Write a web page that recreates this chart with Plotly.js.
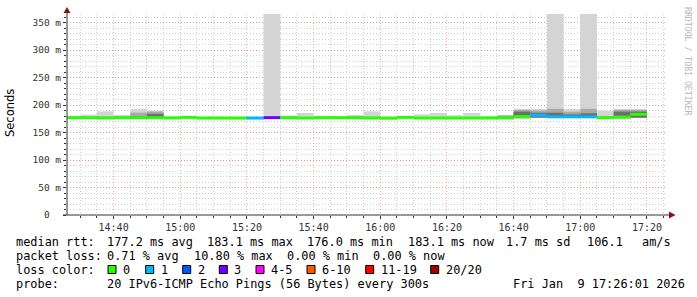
<!DOCTYPE html>
<html><head><meta charset="utf-8">
<script src="https://cdn.plot.ly/plotly-3.0.1.min.js"></script>
<style>html,body{margin:0;padding:0;background:#fff;}#chart{width:697px;height:297px;}</style>
</head><body><div id="chart"></div>
<script>
// ---- data (5-minute bins, start times) ----
const binStart = ["2026-01-09 14:25","2026-01-09 14:30","2026-01-09 14:35","2026-01-09 14:40","2026-01-09 14:45","2026-01-09 14:50","2026-01-09 14:55",
"2026-01-09 15:00","2026-01-09 15:05","2026-01-09 15:10","2026-01-09 15:15","2026-01-09 15:20","2026-01-09 15:25","2026-01-09 15:30","2026-01-09 15:35","2026-01-09 15:40","2026-01-09 15:45","2026-01-09 15:50","2026-01-09 15:55",
"2026-01-09 16:00","2026-01-09 16:05","2026-01-09 16:10","2026-01-09 16:15","2026-01-09 16:20","2026-01-09 16:25","2026-01-09 16:30","2026-01-09 16:35","2026-01-09 16:40","2026-01-09 16:45","2026-01-09 16:50","2026-01-09 16:55",
"2026-01-09 17:00","2026-01-09 17:05","2026-01-09 17:10","2026-01-09 17:15"];
const medianMs = [177.0,177.0,176.5,177.0,177.0,177.0,176.5,177.5,176.3,176.2,176.2,176.3,177.0,177.0,176.3,177.0,177.0,177.0,176.3,176.0,177.5,176.3,176.3,176.3,176.3,176.3,176.5,179.0,181.5,178.5,178.5,178.5,177.0,178.0,183.1];
const lostPings = [0,0,0,0,0,0,0,0,0,0,0,0.6,2.16,0,0,0,0,0,0,0,0,0,0,0,0,0,0,0,0.5,1.0,0.4,0.6,0,0,0];
const pingMin = [176.5,176.5,176.0,176.5,176.5,176.5,176.0,177.0,176.0,176.0,176.0,176.0,176.5,176.5,176.0,176.5,176.5,176.5,176.0,175.8,177.0,176.0,176.0,176.0,176.0,176.0,176.0,176.0,177.0,177.0,177.0,177.0,176.5,176.0,177.0];
const pingP75 = [177.0,177.5,177.5,177.5,179.0,184.0,177.0,178.0,176.5,176.5,176.5,176.5,177.5,177.5,177.0,177.5,177.5,177.5,177.0,176.5,178.0,177.0,177.0,177.0,177.0,177.0,178.0,188.0,186.0,186.0,183.0,185.0,178.0,188.0,188.0];
const pingP90 = [177.5,178.0,179.0,178.0,186.0,188.0,177.5,178.0,177.0,177.0,177.0,177.0,178.0,178.0,178.0,178.0,178.0,178.0,179.0,177.0,178.0,178.0,178.0,178.0,178.0,177.5,181.0,191.0,190.0,193.0,188.0,193.0,180.0,191.0,191.0];
const pingMax = [178.0,182.5,188.5,182.0,193.0,190.0,179.0,179.0,177.5,177.5,177.5,178.0,420.0,181.0,185.5,180.5,180.0,182.0,188.5,177.5,179.0,183.0,185.5,181.5,185.5,180.0,182.0,193.0,193.0,420.0,193.0,420.0,190.0,193.0,193.0];

const yTickVals = [0,50,100,150,200,250,300,350];
const yTickText = ["0\u00a0\u00a0","50 m","100 m","150 m","200 m","250 m","300 m","350 m"];

const lossLabels = ["0","1","2","3","4-5","6-10","11-19","20/20"];
const lossUpper  = [0,1,2,3,5,10,19,20];
const lossColors = ["#26ff00","#00b8ff","#0059ff","#7000ff","#ff00ff","#ff5500","#ff0000","#a00000"];

const statLine1 = ["median rtt:","177.2 ms avg","183.1 ms max","176.0 ms min","183.1 ms now","1.7 ms sd","106.1","am/s"];
const statLine2 = ["packet loss:","0.71 % avg","10.80 % max","0.00 % min","0.00 % now"];
const probeLine = ["probe:","20 IPv6-ICMP Echo Pings (56 Bytes) every 300s","Fri Jan\u00a0\u00a09 17:26:01 2026"];

// ---- geometry ----
const W=697,H=297,L=67,R=667,T=14,B=215;
const YMAX=365.5;
const px = x => (x-L)/(R-L);
const py = y => (B-y)/(B-T);
const msPerPx = YMAX/(B-T);
const lineHalf = 1.5*msPerPx;

function lossColor(l){
  for(let i=0;i<lossUpper.length;i++){ if(l<=lossUpper[i]) return lossColors[i]; }
  return lossColors[lossColors.length-1];
}
function smoke(top,color){
  return {type:'bar',x:binStart,base:pingMin,y:top.map((v,i)=>v-pingMin[i]),width:300000,offset:0,
    marker:{color:color,line:{width:0}},hoverinfo:'skip',showlegend:false};
}
const traces=[
  smoke(pingMax,'#d4d4d4'),
  smoke(pingP90,'#a8a8a8'),
  smoke(pingP75,'#6e6e6e'),
  {type:'bar',x:binStart,base:medianMs.map(v=>v-lineHalf),y:medianMs.map(()=>2*lineHalf),width:300000,offset:0,
   marker:{color:lostPings.map(lossColor),line:{width:0}},hoverinfo:'skip',showlegend:false}
];

const mono='DejaVu Sans Mono';
const ann=[];
function txt(x,y,s,o){ann.push(Object.assign({xref:'paper',yref:'paper',x:px(x),y:py(y),text:s,showarrow:false,xanchor:'left',yanchor:'middle',
  borderpad:0,borderwidth:0,font:{family:mono,size:11.9,color:'#000'}},o||{}));}
const l1x=[16,106.7,207.3,306.7,407.7,505.7,586.7,641.7];
statLine1.forEach((s,i)=>txt(l1x[i],241.5,s));
const l2x=[16,106.7,194,286.7,372.7];
statLine2.forEach((s,i)=>txt(l2x[i],255.5,s));
txt(16,269.5,"loss color:");
const sqx=[108,145.7,182.7,219.3,256,307,365.7,430.7];
const shapes=[];
lossLabels.forEach((s,i)=>{
  shapes.push({type:'rect',xref:'paper',yref:'paper',x0:px(sqx[i]),x1:px(sqx[i]+8),y0:py(273.5),y1:py(265.5),
    fillcolor:lossColors[i],line:{color:'#000',width:1}});
  txt(sqx[i]+15,269.5,s);
});
const l4x=[16,106.7,513.3];
probeLine.forEach((s,i)=>txt(l4x[i],283.5,s));
ann.push({xref:'paper',yref:'paper',x:px(10),y:py(113),text:'Seconds',textangle:-90,showarrow:false,
  xanchor:'center',yanchor:'middle',font:{family:'DejaVu Sans',size:11.5,color:'#000'}});
ann.push({xref:'paper',yref:'paper',x:px(688),y:py(61),text:'RRDTOOL / TOBI OETIKER',textangle:90,showarrow:false,
  xanchor:'center',yanchor:'middle',font:{family:mono,size:8.2,color:'#b8b8b8'}});

// axes lines & arrows
shapes.push({type:'line',xref:'paper',yref:'paper',x0:px(67),x1:px(67),y0:py(215),y1:py(12),line:{color:'#333',width:1}});
shapes.push({type:'line',xref:'paper',yref:'paper',x0:px(63),x1:px(670),y0:py(215),y1:py(215),line:{color:'#333',width:1}});
shapes.push({type:'path',xref:'paper',yref:'paper',path:`M${px(63.5)},${py(13)} L${px(70.5)},${py(13)} L${px(67)},${py(7)} Z`,fillcolor:'#8b1010',line:{width:0}});
shapes.push({type:'path',xref:'paper',yref:'paper',path:`M${px(669)},${py(211.5)} L${px(669)},${py(218.5)} L${px(675.5)},${py(215)} Z`,fillcolor:'#8b1010',line:{width:0}});

const layout={
  width:W,height:H,margin:{l:L,r:W-R,t:T,b:H-B,pad:0},
  paper_bgcolor:'#fff',plot_bgcolor:'#fff',barmode:'overlay',showlegend:false,
  xaxis:{type:'date',range:['2026-01-09 14:26:01','2026-01-09 17:26:01'],tick0:'2026-01-09 14:00',dtick:1200000,tickformat:'%H:%M',
    showline:false,zeroline:false,ticks:'outside',ticklen:3,tickcolor:'#333',
    showgrid:true,gridcolor:'rgba(235,110,110,0.55)',griddash:'1px,2px',gridwidth:1,
    tickfont:{family:mono,size:10,color:'#333'},
    minor:{dtick:300000,showgrid:true,gridcolor:'rgba(190,190,190,0.7)',griddash:'1px,2px',ticks:'outside',ticklen:2,tickcolor:'#333'}},
  yaxis:{range:[0,YMAX],tickvals:yTickVals,ticktext:yTickText,showline:false,zeroline:false,ticks:'outside',ticklen:3,tickcolor:'#333',
    showgrid:true,gridcolor:'rgba(235,110,110,0.55)',griddash:'1px,2px',gridwidth:1,
    tickfont:{family:mono,size:9.5,color:'#333'},
    minor:{dtick:10,showgrid:true,gridcolor:'rgba(190,190,190,0.7)',griddash:'1px,2px',ticks:'outside',ticklen:2,tickcolor:'#333'}},
  annotations:ann,shapes:shapes
};
Plotly.newPlot('chart',traces,layout,{staticPlot:true,displayModeBar:false});
</script></body></html>
